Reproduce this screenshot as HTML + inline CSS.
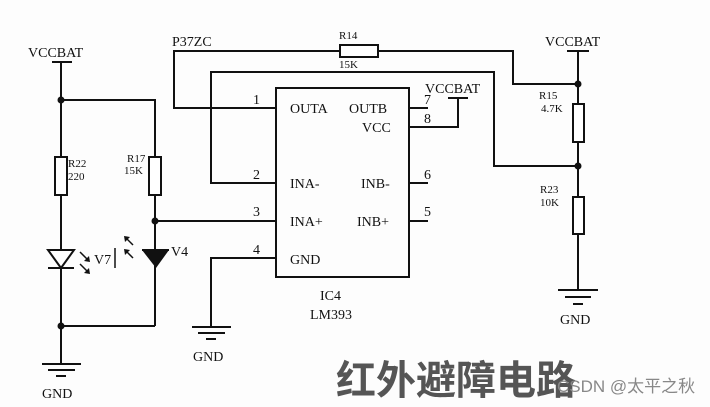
<!DOCTYPE html>
<html><head><meta charset="utf-8"><style>
html,body{margin:0;padding:0;background:#fff;}
svg{display:block;}
text{font-family:"Liberation Serif",serif;fill:#111;}
</style></head><body>
<svg width="710" height="407" viewBox="0 0 710 407" xmlns="http://www.w3.org/2000/svg">
<rect width="710" height="407" fill="#fdfdfd"/>
<g stroke="#111" stroke-width="2" fill="none">
<!-- left VCCBAT -->
<line x1="52" y1="62" x2="72" y2="62"/>
<line x1="61" y1="62" x2="61" y2="157"/>
<polyline points="61,100 155,100 155,157"/>
<rect x="55" y="157" width="12" height="38" fill="#fff"/>
<rect x="149" y="157" width="12" height="38" fill="#fff"/>
<line x1="61" y1="195" x2="61" y2="364"/>
<line x1="155" y1="195" x2="155" y2="326"/>
<line x1="61" y1="326" x2="155" y2="326"/>
<line x1="155" y1="221" x2="276" y2="221"/>
<!-- V7 hollow diode -->
<polygon points="48,250 74,250 61,268" fill="#fff"/>
<line x1="48" y1="268" x2="74" y2="268"/>
<!-- V4 filled -->
<line x1="142" y1="250" x2="169" y2="250"/>
<line x1="115" y1="248" x2="115" y2="268" stroke-width="1.5"/>
<!-- left gnd -->
<line x1="42" y1="364" x2="81" y2="364"/>
<line x1="48" y1="370" x2="75" y2="370"/>
<line x1="56" y1="376" x2="66" y2="376"/>
<!-- IC -->
<rect x="276" y="88" width="133" height="189"/>
<polyline points="276,108 174,108 174,51 340,51"/>
<rect x="340" y="45" width="38" height="12" fill="#fff"/>
<polyline points="378,51 513,51 513,84 578,84"/>
<polyline points="276,183 211,183 211,72 494,72 494,166 578,166"/>
<polyline points="276,258 211,258 211,327"/>
<line x1="192" y1="327" x2="231" y2="327"/>
<line x1="198" y1="333" x2="225" y2="333"/>
<line x1="206" y1="339" x2="216" y2="339"/>
<line x1="409" y1="108" x2="428" y2="108"/>
<polyline points="409,127 458,127 458,98"/>
<line x1="448" y1="98" x2="468" y2="98"/>
<line x1="409" y1="183" x2="428" y2="183"/>
<line x1="409" y1="221" x2="428" y2="221"/>
<!-- right -->
<line x1="567" y1="51" x2="589" y2="51"/>
<line x1="578" y1="51" x2="578" y2="290"/>
<rect x="573" y="104" width="11" height="38" fill="#fff"/>
<rect x="573" y="197" width="11" height="37" fill="#fff"/>
<line x1="558" y1="290" x2="598" y2="290"/>
<line x1="565" y1="297" x2="591" y2="297"/>
<line x1="573" y1="304" x2="583" y2="304"/>
</g>
<polygon points="142,268 169,268 155,250" fill="#111" transform="rotate(180 155.5 259)"/>
<g fill="#111">
<circle cx="61" cy="100" r="3.5"/><circle cx="61" cy="326" r="3.5"/>
<circle cx="155" cy="221" r="3.5"/><circle cx="578" cy="84" r="3.5"/><circle cx="578" cy="166" r="3.5"/>
</g>
<!-- small arrows -->
<g stroke="#111" stroke-width="1.5">
<line x1="80" y1="252" x2="88" y2="260"/><line x1="80" y1="264" x2="88" y2="272"/>
<line x1="133" y1="245" x2="126" y2="238"/><line x1="133" y1="258" x2="126" y2="251"/>
</g>
<g fill="#111">
<polygon points="90,262 84,261 89,256"/><polygon points="90,274 84,273 89,268"/>
<polygon points="124,236 130,237 125,242"/><polygon points="124,249 130,250 125,255"/>
</g>
<g font-size="14">
<text x="28" y="57">VCCBAT</text>
<text x="42" y="398">GND</text>
<text x="193" y="361">GND</text>
<text x="560" y="324">GND</text>
<text x="545" y="46">VCCBAT</text>
<text x="425" y="93">VCCBAT</text>
<text x="172" y="46">P37ZC</text>
<text x="94" y="264">V7</text>
<text x="171" y="256">V4</text>
<text x="290" y="113">OUTA</text><text x="349" y="113">OUTB</text><text x="362" y="132">VCC</text>
<text x="290" y="188">INA-</text><text x="361" y="188">INB-</text>
<text x="290" y="226">INA+</text><text x="357" y="226">INB+</text>
<text x="290" y="264">GND</text>
<text x="320" y="300">IC4</text><text x="310" y="319">LM393</text>
<text x="253" y="104">1</text><text x="253" y="179">2</text><text x="253" y="216">3</text><text x="253" y="254">4</text>
<text x="424" y="104">7</text><text x="424" y="123">8</text><text x="424" y="179">6</text><text x="424" y="216">5</text>
</g>
<g font-size="11">
<text x="68" y="167">R22</text><text x="68" y="180">220</text>
<text x="127" y="162">R17</text><text x="124" y="174">15K</text>
<text x="339" y="39">R14</text><text x="339" y="68">15K</text>
<text x="539" y="99">R15</text><text x="541" y="112">4.7K</text>
<text x="540" y="193">R23</text><text x="540" y="206">10K</text>
</g>
<text x="336" y="394" font-size="40" font-weight="bold" style="font-family:'Noto Sans CJK SC',sans-serif;fill:#555">红外避障电路</text>
<text x="557" y="392" font-size="17" style="font-family:'Liberation Sans','Noto Sans CJK SC',sans-serif;fill:#888">CSDN @太平之秋</text>
</svg>
</body></html>
